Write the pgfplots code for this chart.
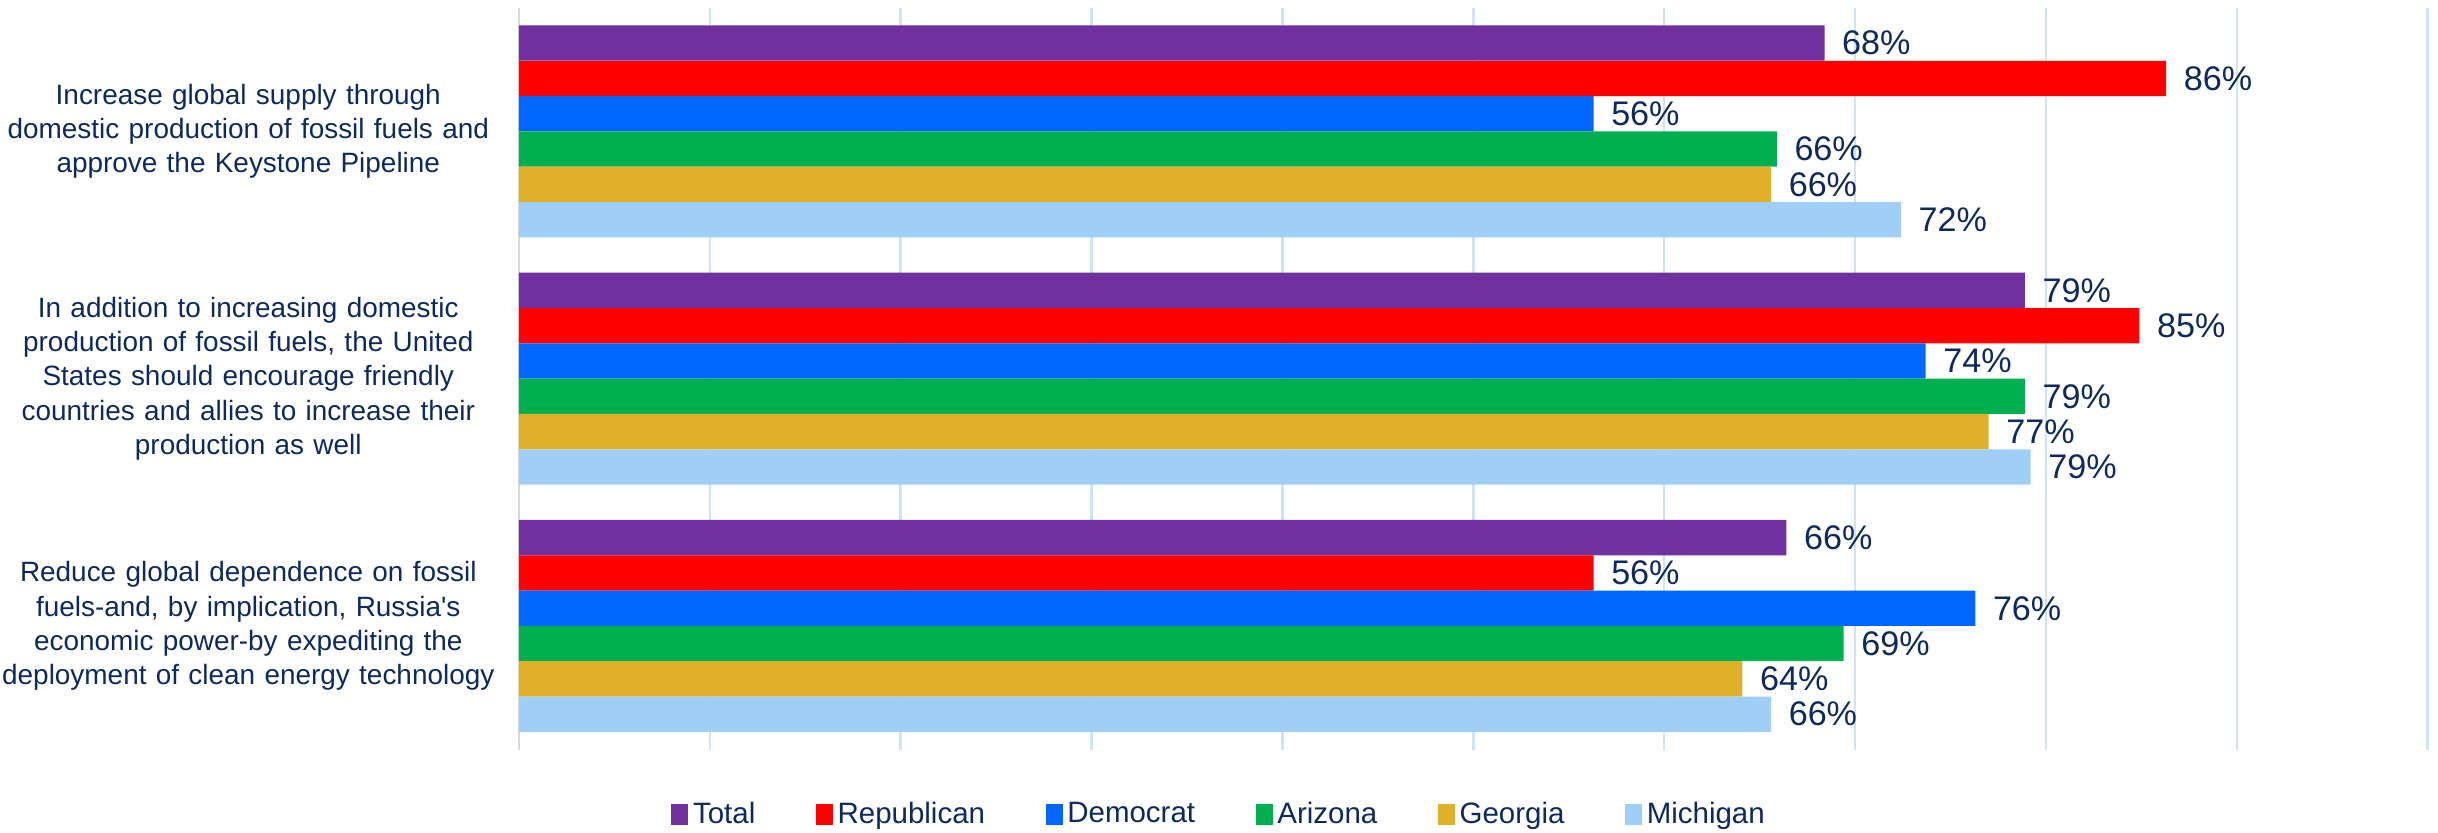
\documentclass[border=0pt]{standalone}
\usepackage{fontspec}
\setmainfont{Liberation Sans}[Ligatures=TeXOff]
\usepackage{pgfplots}
\pgfplotsset{compat=1.18}
\usepackage{pgfplotstable}

\definecolor{cTotal}{HTML}{7030A0}
\definecolor{cRep}{HTML}{FF0000}
\definecolor{cDem}{HTML}{0066FF}
\definecolor{cAZ}{HTML}{00B050}
\definecolor{cGA}{HTML}{E1B02A}
\definecolor{cMI}{HTML}{9FCFF6}
\definecolor{navy}{HTML}{0E2A5C}
\definecolor{gridblue}{HTML}{CFE3F7}
\definecolor{axisgrey}{HTML}{D9D9D9}

% one row per statement, 0 = top; v = bar length, p = printed percent
\pgfplotstableread{
q vtotal ptotal vrep prep vdem pdem vaz paz vga pga vmi pmi
0 68.4 68 86.3 86 56.3 56 65.9 66 65.6 66 72.4 72
1 78.9 79 84.9 85 73.7 74 78.9 79 77.0 77 79.2 79
2 66.4 66 56.3 56 76.3 76 69.4 69 64.1 64 65.6 66
}\results

\begin{document}
\begin{tikzpicture}
\begin{axis}[
  scale only axis,
  width=615bp, height=239bp,
  xmin=0, xmax=100, ymin=-0.5, ymax=2.5,
  y dir=reverse,
  enlargelimits=false,
  clip=false,
  xtick={0,10,...,100},
  xticklabels={},
  xmajorgrids,
  grid style={draw=gridblue, line width=0.8bp},
  major tick length=0pt,
  axis lines*=left,
  x axis line style={draw=none},
  y axis line style={draw=axisgrey, line width=0.9bp},
  ytick={0,1,2},
  yticklabels={
    {Increase global supply through\\domestic production of fossil fuels and\\approve the Keystone Pipeline},
    {In addition to increasing domestic\\production of fossil fuels, the United\\States should encourage friendly\\countries and allies to increase their\\production as well},
    {Reduce global dependence on fossil\\fuels-and, by implication, Russia's\\economic power-by expediting the\\deployment of clean energy technology}
  },
  yticklabel style={text width=160bp, align=center, inner sep=0pt, xshift=-7bp,
    font=\fontsize{9bp}{11bp}\selectfont, text=navy},
  xbar,
  bar width=0.142857,
  point meta=explicit,
  nodes near coords={\pgfmathprintnumber[assume math mode=true]{\pgfplotspointmeta}\%},
  nodes near coords style={anchor=west, inner sep=0pt, xshift=5.5bp,
    font=\fontsize{11bp}{13bp}\selectfont, text=navy},
  legend columns=6,
  legend image code/.code={\fill[#1] (0bp,-3.2bp) rectangle (5.5bp,3.4bp);},
  legend style={at={(0.3675,0)}, anchor=center, yshift=-21bp, draw=none, fill=none,
    inner sep=0pt, nodes={inner sep=1.5bp},
    font=\fontsize{9.5bp}{11bp}\selectfont, text=navy,
    /tikz/every even column/.append style={column sep=18bp}},
]
\addplot[fill=cTotal, draw=none, bar shift=-0.357143] table[x=vtotal, y=q, meta=ptotal]{\results};
\addplot[fill=cRep, draw=none, bar shift=-0.214286] table[x=vrep, y=q, meta=prep]{\results};
\addplot[fill=cDem, draw=none, bar shift=-0.071429] table[x=vdem, y=q, meta=pdem]{\results};
\addplot[fill=cAZ, draw=none, bar shift=0.071429] table[x=vaz, y=q, meta=paz]{\results};
\addplot[fill=cGA, draw=none, bar shift=0.214286] table[x=vga, y=q, meta=pga]{\results};
\addplot[fill=cMI, draw=none, bar shift=0.357143] table[x=vmi, y=q, meta=pmi]{\results};
\legend{Total, Republican, Democrat, Arizona, Georgia, Michigan}
\end{axis}
% a little white space above the plot area, as in the original
\path ([yshift=2.5bp]current axis.north);
\end{tikzpicture}
\end{document}
